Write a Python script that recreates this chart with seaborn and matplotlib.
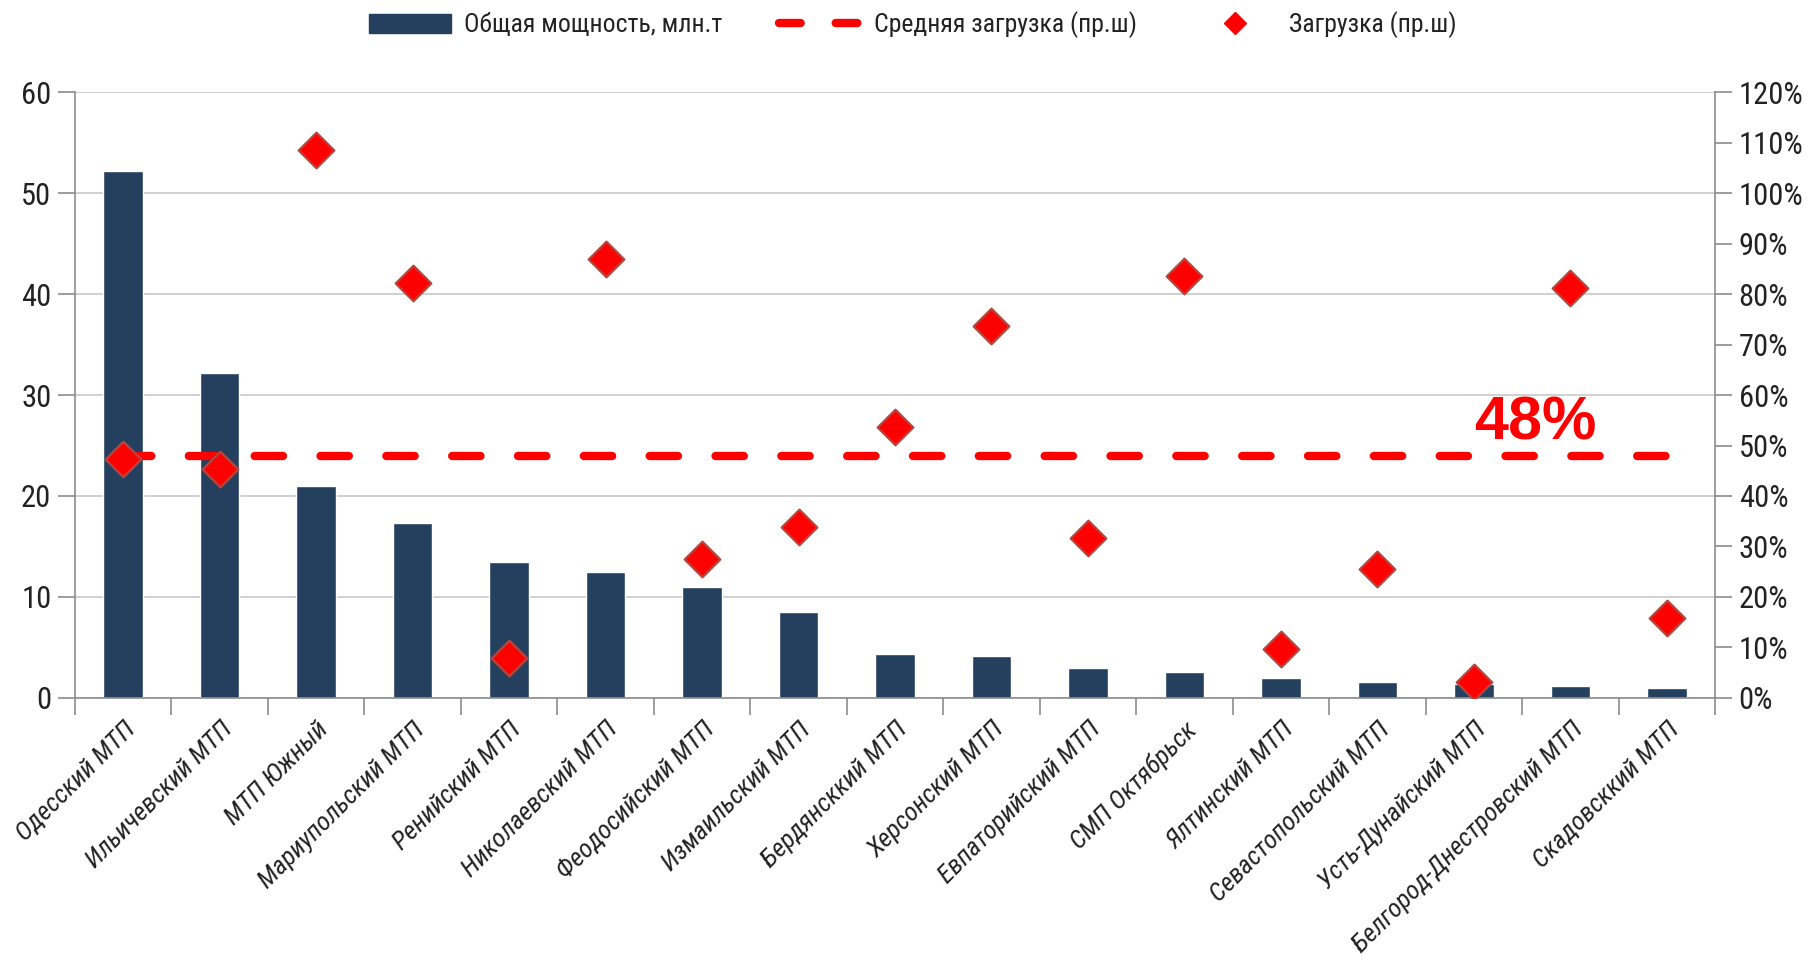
import matplotlib
matplotlib.use("Agg")
import matplotlib.pyplot as plt
import matplotlib.font_manager as fm
from matplotlib.lines import Line2D
from matplotlib.patches import Patch
from matplotlib.ticker import MultipleLocator, FixedLocator, FuncFormatter
import seaborn as sns
import pandas as pd

# ports, capacity (mln t) and load (%)
ports = [
    "Одесский МТП", "Ильичевский МТП", "МТП Южный", "Мариупольский МТП",
    "Ренийский МТП", "Николаевский МТП", "Феодосийский МТП", "Измаильский МТП",
    "Бердянсккий МТП", "Херсонский МТП", "Евпаторийский МТП", "СМП Октябрьск",
    "Ялтинский МТП", "Севастопольский МТП", "Усть-Дунайский МТП",
    "Белгород-Днестровский МТП", "Скадовсккий МТП",
]
capacity = [52.2, 32.2, 21.0, 17.3, 13.5, 12.5, 11.0, 8.5, 4.35, 4.2,
            3.0, 2.6, 1.95, 1.6, 1.35, 1.15, 1.0]
load_pct = [47.4, 45.3, 108.5, 82.2, 8.0, 87.0, 27.5, 33.9, 53.6, 73.7,
            31.6, 83.6, 9.6, 25.6, 3.2, 81.3, 15.8]
avg_load = 48

BAR = "#25405F"
RED = "#FF0000"
EDGE = "#B5473F"
GRID = "#C8C8C8"
AXC = "#8C8C8C"
TXT = "#222222"

sns.set_theme(style="white")
names = {f.name for f in fm.fontManager.ttflist}
narrow = "Liberation Sans"
for cand in ["Liberation Sans Narrow", "Roboto Condensed", "Open Sans Condensed",
             "Noto Sans Condensed", "Arial Narrow"]:
    if cand in names:
        narrow = cand
        break
plt.rcParams["font.family"] = [narrow, "DejaVu Sans"]

df = pd.DataFrame({"port": ports, "cap": capacity, "load": load_pct,
                   "avg": [avg_load] * len(ports)})

fig = plt.figure(figsize=(18.11, 9.6), dpi=100)
ax = fig.add_axes([0.0414, 0.273, 0.9056, 0.631])
ax2 = ax.twinx()

sns.barplot(data=df, x="port", y="cap", color=BAR, width=0.41, saturation=1,
            ax=ax, zorder=2)
ax.set_ylim(0, 60)
ax.set_xlim(-0.5, len(ports) - 0.5)
ax.yaxis.set_major_locator(MultipleLocator(10))
ax.grid(axis="y", color=GRID, linewidth=1.2, zorder=0)
ax.set_axisbelow(True)

# average line and load markers on the right axis
xs = list(range(len(ports)))
ax2.plot(xs, df["avg"], color=RED, linewidth=6, linestyle=(0, (3.4, 4.5)),
         dash_capstyle="round", zorder=3)
sns.scatterplot(x=xs, y=df["load"], ax=ax2, marker="D", s=330, color=RED,
                edgecolor=EDGE, linewidth=1.6, zorder=4)
ax2.set_ylim(0, 120)
ax2.yaxis.set_major_locator(MultipleLocator(10))
ax2.yaxis.set_major_formatter(FuncFormatter(lambda v, p: f"{v:.0f}%"))
ax2.grid(False)

ax2.text(14.64, avg_load + 6.3, f"{avg_load}%", color=RED, fontsize=44,
         fontweight="bold", family=["Liberation Sans", "DejaVu Sans"],
         ha="center", va="center", zorder=5)

for a in (ax, ax2):
    for s in a.spines.values():
        s.set_visible(False)
for a, s in ((ax, "left"), (ax, "bottom"), (ax2, "right")):
    a.spines[s].set_visible(True)
    a.spines[s].set_color(AXC)
    a.spines[s].set_linewidth(1.2)

ax.tick_params(axis="y", left=True, length=12, width=1.2, color=AXC,
               labelsize=22, labelcolor=TXT, pad=5)
ax2.tick_params(axis="y", right=True, length=12, width=1.2, color=AXC,
                labelsize=22, labelcolor=TXT, pad=5)
ax.set_xlabel("")
ax.set_ylabel("")
ax2.set_ylabel("")

# x ticks: marks between categories, labels centred under bars
ax.xaxis.set_minor_locator(FixedLocator([i - 0.5 for i in range(len(ports) + 1)]))
ax.tick_params(axis="x", which="minor", bottom=True, length=12, width=1.2, color=AXC)
ax.tick_params(axis="x", which="major", bottom=False, length=0, pad=14)
ax.set_xticks(xs)
ax.set_xticklabels(ports, rotation=45, ha="right", rotation_mode="anchor",
                   fontsize=19, style="italic", color=TXT)

handles = [
    Patch(facecolor=BAR, edgecolor=BAR),
    Line2D([], [], color=RED, linewidth=6, linestyle=(0, (2.6, 4.2)),
           dash_capstyle="round"),
    Line2D([], [], color=RED, marker="D", markersize=11, linestyle="none",
           markeredgecolor=RED),
]
labels = ["Общая мощность, млн.т", "Средняя загрузка (пр.ш)", "Загрузка (пр.ш)"]
fig.legend(handles, labels, loc="center", bbox_to_anchor=(0.504, 0.974), ncol=3,
           frameon=False, fontsize=18.5, handlelength=3.2, handleheight=0.8,
           columnspacing=2.2, handletextpad=0.5, labelcolor=TXT)

fig.savefig("out.png", dpi=100)
